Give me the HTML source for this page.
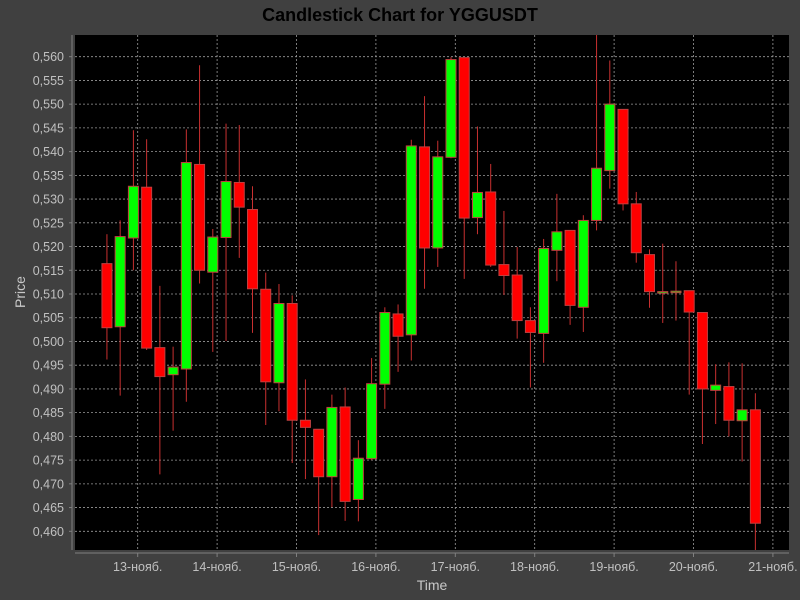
<!DOCTYPE html>
<html><head><meta charset="utf-8"><style>
html,body{margin:0;padding:0;background:#404040;}
svg{display:block;font-family:"Liberation Sans",sans-serif;}
</style></head><body>
<svg id="chart" width="800" height="600">
<rect x="0" y="0" width="800" height="600" fill="#404040"/>
<text x="400" y="21" text-anchor="middle" font-size="18" font-weight="bold" fill="#000">Candlestick Chart for YGGUSDT</text>
<rect x="75" y="35" width="714" height="515" fill="#000"/>
<g id="grid"></g>
<g id="axes"></g>
<g id="candles"></g>
<text x="25" y="292" transform="rotate(-90 25 292)" text-anchor="middle" font-size="14" fill="#c8c8c8">Price</text>
<text x="432" y="590" text-anchor="middle" font-size="14" fill="#c8c8c8">Time</text>
</svg>
<script>
const opens=[0.5164,0.5031,0.5218,0.5325,0.4987,0.4930,0.4942,0.5373,0.5146,0.5219,0.5335,0.5278,0.5110,0.4913,0.5080,0.4834,0.4815,0.4715,0.4862,0.4667,0.4753,0.4910,0.5058,0.5014,0.5410,0.5197,0.5388,0.5598,0.5261,0.5315,0.5162,0.5140,0.5044,0.5017,0.5192,0.5234,0.5072,0.5255,0.5360,0.5489,0.5290,0.5183,0.5105,0.5106,0.5107,0.5061,0.4897,0.4905,0.4833,0.4856];
const highs=[0.5226,0.5255,0.5445,0.5426,0.5117,0.4989,0.5447,0.5582,0.5237,0.5459,0.5456,0.5327,0.5145,0.5121,0.5097,0.4920,0.4815,0.4888,0.4903,0.4792,0.4965,0.5072,0.5078,0.5425,0.5517,0.5423,0.5599,0.5598,0.5453,0.5374,0.5275,0.5199,0.5072,0.5216,0.5311,0.5234,0.5266,0.5660,0.5592,0.5489,0.5315,0.5194,0.5206,0.5169,0.5107,0.5061,0.4952,0.4956,0.4954,0.4891];
const lows=[0.4962,0.4886,0.5150,0.4982,0.4720,0.4812,0.4873,0.5122,0.4978,0.5001,0.5176,0.5018,0.4824,0.4853,0.4744,0.4710,0.4592,0.4651,0.4622,0.4621,0.4750,0.4858,0.4936,0.4960,0.5111,0.5157,0.5386,0.5132,0.5226,0.5157,0.5098,0.5006,0.4903,0.4955,0.5127,0.5035,0.5020,0.5234,0.5322,0.5276,0.5166,0.5071,0.5039,0.5044,0.4888,0.4784,0.4826,0.4800,0.4747,0.4560];
const closes=[0.5029,0.5221,0.5327,0.4986,0.4926,0.4946,0.5377,0.5150,0.5220,0.5337,0.5283,0.5111,0.4915,0.5080,0.4834,0.4819,0.4715,0.4861,0.4663,0.4754,0.4911,0.5061,0.5011,0.5412,0.5197,0.5389,0.5594,0.5260,0.5314,0.5161,0.5139,0.5044,0.5019,0.5196,0.5231,0.5076,0.5255,0.5365,0.5500,0.5290,0.5187,0.5105,0.5105,0.5106,0.5062,0.4900,0.4908,0.4834,0.4856,0.4617];
const yTicks=[0.460,0.465,0.470,0.475,0.480,0.485,0.490,0.495,0.500,0.505,0.510,0.515,0.520,0.525,0.530,0.535,0.540,0.545,0.550,0.555,0.560];
const xTickLabels=["13-нояб.","14-нояб.","15-нояб.","16-нояб.","17-нояб.","18-нояб.","19-нояб.","20-нояб.","21-нояб."];
const startHour=-9.3, intervalHours=4;
const NS="http://www.w3.org/2000/svg";
const PX0=75,PX1=789,PY0=35,PY1=550;
function y(v){return 56.7+(0.560-v)*(531.3-56.7)/0.100;}
function x(h){return 137.7+h*(79.4/24);}
function mk(tag,attrs,parent){const e=document.createElementNS(NS,tag);for(const k in attrs)e.setAttribute(k,attrs[k]);parent.appendChild(e);return e;}
const grid=document.getElementById('grid'),axes=document.getElementById('axes'),cg=document.getElementById('candles');
mk('line',{x1:72,y1:PY0,x2:72,y2:PY1,stroke:'#808080'},axes);
mk('line',{x1:PX0,y1:553,x2:PX1,y2:553,stroke:'#808080'},axes);
yTicks.forEach(v=>{const yy=y(v);
 const g=mk('line',{x1:PX0,y1:yy,x2:PX1,y2:yy,stroke:'#9a9a9a','stroke-dasharray':'2,2','stroke-width':0.8},grid);
 
 
 mk('line',{x1:69,y1:yy,x2:72,y2:yy,stroke:'#808080'},axes);
 const t=mk('text',{x:64,y:yy+4.5,'text-anchor':'end','font-size':12.5,fill:'#c0c0c0'},axes);
 t.textContent=v.toFixed(3).replace('.',',');
 
 
});
xTickLabels.forEach((lab,i)=>{const xx=x(i*24);
 const g=mk('line',{x1:xx,y1:PY0,x2:xx,y2:PY1,stroke:'#9a9a9a','stroke-dasharray':'2,2','stroke-width':0.8},grid);
 
 
 mk('line',{x1:xx,y1:553,x2:xx,y2:557,stroke:'#808080'},axes);
 const t=mk('text',{x:xx,y:571,'text-anchor':'middle','font-size':12.5,fill:'#c0c0c0'},axes);
 t.textContent=lab;
 
 
});
const clip=mk('clipPath',{id:'pc'},document.getElementById('chart'));
mk('rect',{x:PX0,y:PY0,width:PX1-PX0,height:PY1-PY0},clip);
cg.setAttribute('clip-path','url(#pc)');
opens.forEach((o,i)=>{const c=closes[i];const cx=x(startHour+i*intervalHours);
 const up=c>=o;
 const g=mk('g',{},cg);
 
 
 mk('line',{x1:cx,y1:y(highs[i]),x2:cx,y2:y(lows[i]),stroke:'#c83030','stroke-width':1},g);
 const top=y(Math.max(o,c)),bot=y(Math.min(o,c));
 mk('rect',{x:cx-5,y:top,width:10,height:Math.max(bot-top,1.5),fill:up?'#00ff00':'#ff0000',stroke:'#c04040','stroke-width':1},g);
});
</script>
</body></html>
